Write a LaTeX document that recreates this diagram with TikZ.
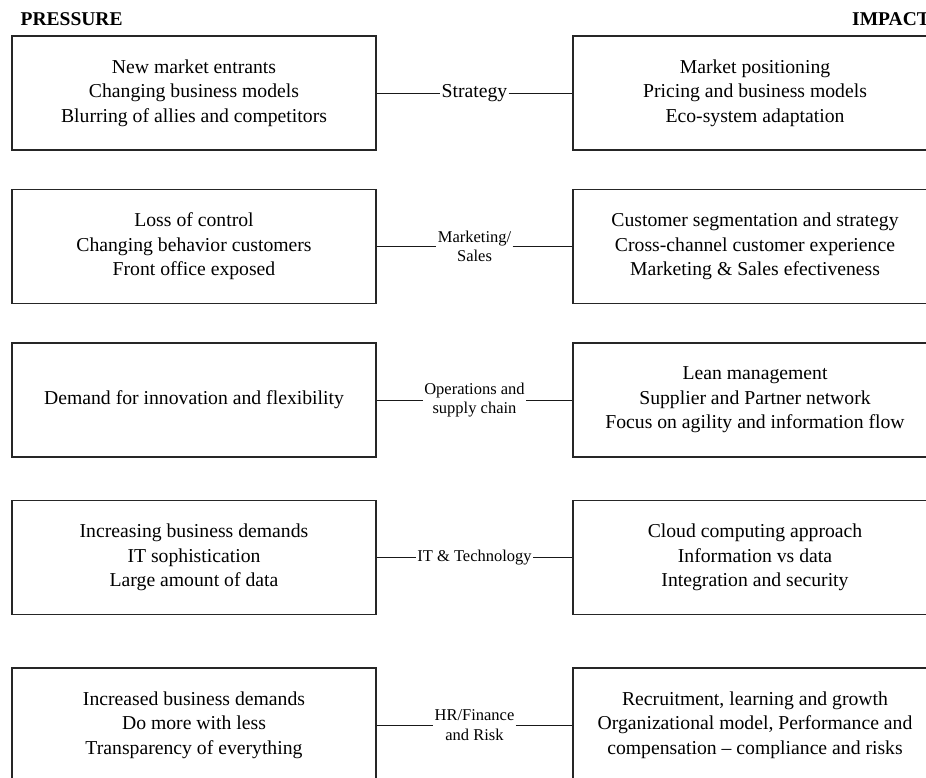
\documentclass[tikz,border=0pt]{standalone}
\usepackage{fontspec}
\setmainfont{Liberation Serif}
\begin{document}
\begin{tikzpicture}[x=1pt,y=-1pt,
  box/.style={draw=black!85,line width=1.1pt,minimum width=364pt,minimum height=114pt,
    align=center,inner sep=0pt,font=\fontsize{19.7}{24.5}\selectfont},
  lab/.style={align=center,inner sep=1.2pt,font=\fontsize{16.5}{19.5}\selectfont},
  labbig/.style={align=center,inner sep=1.2pt,font=\fontsize{19.7}{24.5}\selectfont},
  head/.style={anchor=base west,inner sep=0pt,font=\fontsize{19.5}{23}\selectfont\bfseries},
  conn/.style={draw=black!90,line width=0.9pt}]
\useasboundingbox (0,0) rectangle (926,778);
\clip (0,0) rectangle (926,778);

\node[head] (ph) at (20.5,26) {PRESSURE};
\node[head] (ih) at (852,26) {IMPACT};

% row 1
\node[box] (p1) at (194,93) {New market entrants\\Changing business models\\Blurring of allies and competitors};
\node[box] (i1) at (755,93) {Market positioning\\Pricing and business models\\Eco-system adaptation};
\node[labbig] (l1) at (474.5,93) {Strategy};
% row 2
\node[box] (p2) at (194,246.5) {Loss of control\\Changing behavior customers\\Front office exposed};
\node[box] (i2) at (755,246.5) {Customer segmentation and strategy\\Cross-channel customer experience\\Marketing \& Sales efectiveness};
\node[lab] (l2) at (474.5,246.5) {Marketing/\\Sales};
% row 3
\node[box] (p3) at (194,400) {Demand for innovation and flexibility};
\node[box] (i3) at (755,400) {Lean management\\Supplier and Partner network\\Focus on agility and information flow};
\node[lab] (l3) at (474.5,400) {Operations and\\supply chain};
% row 4
\node[box] (p4) at (194,557.5) {Increasing business demands\\IT sophistication\\Large amount of data};
\node[box] (i4) at (755,557.5) {Cloud computing approach\\Information vs data\\Integration and security};
\node[lab] (l4) at (474.5,557.5) {IT \& Technology};
% row 5
\node[box] (p5) at (194,725) {Increased business demands\\Do more with less\\Transparency of everything};
\node[box] (i5) at (755,725) {Recruitment, learning and growth\\Organizational model, Performance and\\compensation -- compliance and risks};
\node[lab] (l5) at (474.5,725) {HR/Finance\\and Risk};

\foreach \i in {1,...,5}{
  \draw[conn] (p\i.east) -- (l\i.west);
  \draw[conn] (l\i.east) -- (i\i.west);
}
\end{tikzpicture}
\end{document}
